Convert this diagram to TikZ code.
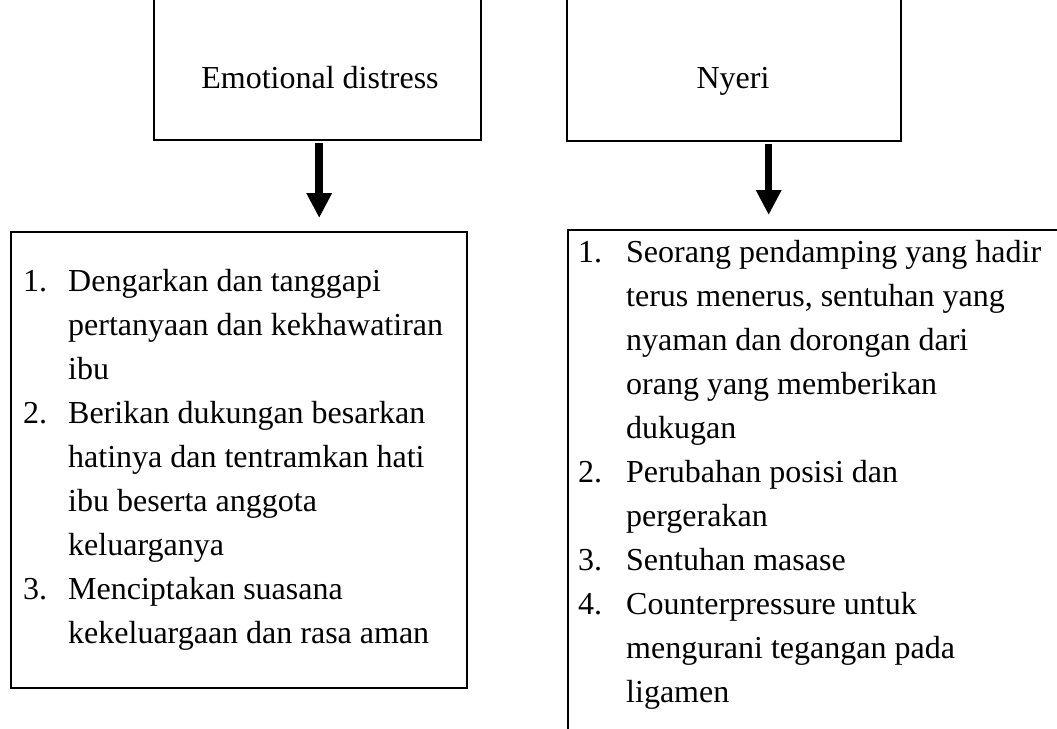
\documentclass[tikz,border=0pt]{standalone}
\usepackage{fontspec}
\setmainfont{Liberation Serif}
\usetikzlibrary{arrows.meta,calc}
\begin{document}
\begin{tikzpicture}[x=1pt,y=1pt,
  box/.style={draw=black, line width=2.4pt, inner sep=0pt, anchor=north west},
  bigarrow/.style={draw=black, line width=7.5pt, -{Triangle[width=24pt,length=25pt]}},
  lbl/.style={inner sep=0pt, font=\fontsize{32}{44}\selectfont}]
\useasboundingbox (0,0) rectangle (1057,-728);
\fill[white] (0,0) rectangle (1057,-728);
\clip (0,0) rectangle (1057,-728);
% boxes
\node[box, minimum width=327pt, minimum height=169pt] (emo) at (153,30) {};
\node[box, minimum width=334pt, minimum height=170pt] (nyeri) at (566,30) {};
\node[box, minimum width=456pt, minimum height=456pt] (emolist) at (10,-231) {};
\node[box, minimum width=520pt, minimum height=540pt] (nyerilist) at (567,-229) {};
% titles
\node[lbl, anchor=base] (emotxt) at (320,-88) {Emotional distress};
\node[lbl, anchor=base] (nyeritxt) at (733,-88) {Nyeri};
% arrows
\draw[bigarrow] ($(emo.south)+(1.5,-2)$) -- ($(emo.south |- emolist.north)+(1.5,13)$);
\draw[bigarrow] ($(nyeri.south)+(34.5,-2)$) -- ($(nyeri.south |- nyerilist.north)+(34.5,14)$);
% lists
\node[lbl, anchor=base west] (emoitems) at (23,-291) {\begin{tabular}[t]{@{}p{45pt}@{}l@{}}
1. & Dengarkan dan tanggapi\\
   & pertanyaan dan kekhawatiran\\
   & ibu\\
2. & Berikan dukungan besarkan\\
   & hatinya dan tentramkan hati\\
   & ibu beserta anggota\\
   & keluarganya\\
3. & Menciptakan suasana\\
   & kekeluargaan dan rasa aman
\end{tabular}};
\node[lbl, anchor=base west] (nyeriitems) at (578,-262) {\begin{tabular}[t]{@{}p{48pt}@{}l@{}}
1. & Seorang pendamping yang hadir\\
   & terus menerus, sentuhan yang\\
   & nyaman dan dorongan dari\\
   & orang yang memberikan\\
   & dukugan\\
2. & Perubahan posisi dan\\
   & pergerakan\\
3. & Sentuhan masase\\
4. & Counterpressure untuk\\
   & mengurani tegangan pada\\
   & ligamen
\end{tabular}};
\end{tikzpicture}
\end{document}
